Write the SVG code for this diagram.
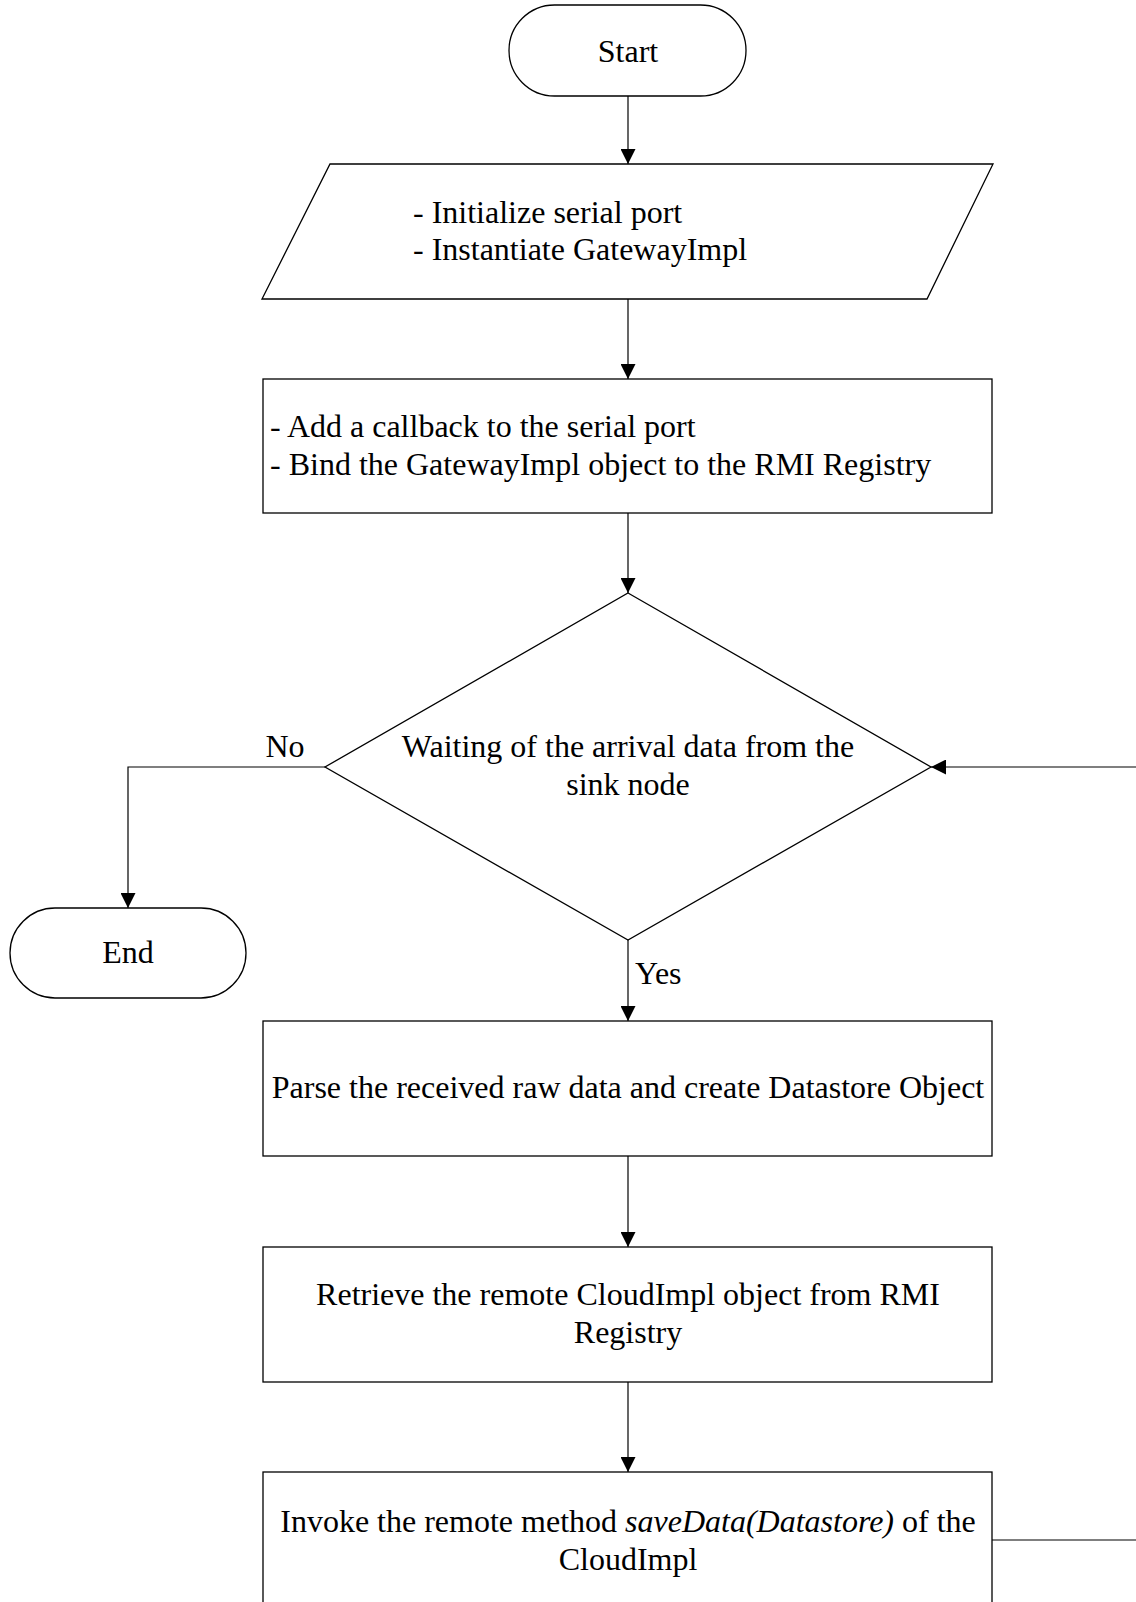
<svg xmlns="http://www.w3.org/2000/svg" width="1136" height="1602" viewBox="0 0 1136 1602">
  <style>
    .shape { fill: #ffffff; stroke: #000000; stroke-width: 1.3; }
    .link { fill: none; stroke: #000000; stroke-width: 1.2; }
    text { font-family: "Liberation Serif", "Times New Roman", serif; font-size: 32px; fill: #000000; }
    .mid { text-anchor: middle; }
  </style>
  <defs>
    <marker id="arrow" markerUnits="userSpaceOnUse" markerWidth="15" markerHeight="15" refX="15" refY="7.5" orient="auto">
      <path d="M0,0 L15,7.5 L0,15 z" fill="#000000"/>
    </marker>
  </defs>
  <rect width="1136" height="1602" fill="#ffffff"/>

  <!-- connectors -->
  <g id="connectors">
    <line class="link" x1="628" y1="96" x2="628" y2="164" marker-end="url(#arrow)"/>
    <line class="link" x1="628" y1="299" x2="628" y2="379" marker-end="url(#arrow)"/>
    <line class="link" x1="628" y1="513" x2="628" y2="593" marker-end="url(#arrow)"/>
    <polyline class="link" points="325,767 128,767 128,908" marker-end="url(#arrow)"/>
    <line class="link" x1="628" y1="940" x2="628" y2="1021" marker-end="url(#arrow)"/>
    <line class="link" x1="628" y1="1156" x2="628" y2="1247" marker-end="url(#arrow)"/>
    <line class="link" x1="628" y1="1382" x2="628" y2="1472" marker-end="url(#arrow)"/>
    <polyline class="link" points="992,1540 1142,1540 1142,767 931,767" marker-end="url(#arrow)"/>
    <text x="285" y="757" class="mid">No</text>
    <text x="635" y="984">Yes</text>
  </g>

  <!-- start terminator -->
  <g id="start">
    <rect class="shape" x="509" y="5" width="237" height="91" rx="45.5" ry="45.5"/>
    <text x="628" y="62" class="mid">Start</text>
  </g>

  <!-- initialisation (input/output) -->
  <g id="init">
    <polygon class="shape" points="330,164 993,164 927,299 262,299"/>
    <text x="413" y="223">- Initialize serial port</text>
    <text x="413" y="260">- Instantiate GatewayImpl</text>
  </g>

  <!-- callback and registry binding -->
  <g id="bind">
    <rect class="shape" x="263" y="379" width="729" height="134"/>
    <text x="270" y="437">- Add a callback to the serial port</text>
    <text x="270" y="475">- Bind the GatewayImpl object to the RMI Registry</text>
  </g>

  <!-- decision: wait for data -->
  <g id="wait">
    <polygon class="shape" points="628,593 931,767 628,940 325,767"/>
    <text x="628" y="757" class="mid">Waiting of the arrival data from the</text>
    <text x="628" y="795" class="mid">sink node</text>
  </g>

  <!-- end terminator -->
  <g id="end">
    <rect class="shape" x="10" y="908" width="236" height="90" rx="45" ry="45"/>
    <text x="128" y="963" class="mid">End</text>
  </g>

  <!-- parse data -->
  <g id="parse">
    <rect class="shape" x="263" y="1021" width="729" height="135"/>
    <text x="628" y="1098" class="mid">Parse the received raw data and create Datastore Object</text>
  </g>

  <!-- retrieve remote object -->
  <g id="retrieve">
    <rect class="shape" x="263" y="1247" width="729" height="135"/>
    <text x="628" y="1305" class="mid">Retrieve the remote CloudImpl object from RMI</text>
    <text x="628" y="1343" class="mid">Registry</text>
  </g>

  <!-- invoke remote method -->
  <g id="invoke">
    <rect class="shape" x="263" y="1472" width="729" height="140"/>
    <text x="628" y="1532" class="mid">Invoke the remote method <tspan font-style="italic">saveData(Datastore)</tspan> of the</text>
    <text x="628" y="1570" class="mid">CloudImpl</text>
  </g>
</svg>
